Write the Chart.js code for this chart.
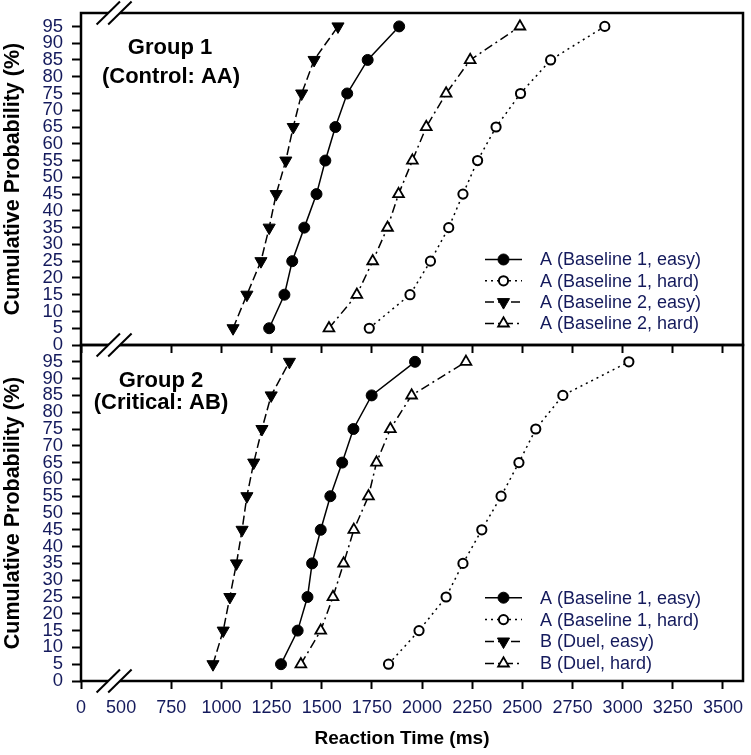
<!DOCTYPE html>
<html>
<head>
<meta charset="utf-8">
<script src="https://cdn.jsdelivr.net/npm/chart.js@4.4.0/dist/chart.umd.min.js"></script>
<style>
html, body { margin: 0; padding: 0; background: #fff; }
#wrap { position: relative; width: 751px; height: 755px; }
canvas { position: absolute; left: 0; }
#c1 { top: 0; }
#c2 { top: 330px; }
</style>
</head>
<body>
<div id="wrap">
	<canvas id="c1" width="751" height="360"></canvas>
	<canvas id="c2" width="751" height="425"></canvas>
</div>
<script>
// # ===============================
// # = Data
// # ===============================
const percentiles = [5, 15, 25, 35, 45, 55, 65, 75, 85, 95];

// Group 1 (Control: AA)
const g1Base1Easy = [1238, 1314, 1353, 1413, 1474, 1518, 1568, 1627, 1729, 1886];
const g1Base1Hard = [1737, 1940, 2042, 2133, 2204, 2277, 2369, 2491, 2641, 2911];
const g1Base2Easy = [1058, 1127, 1197, 1238, 1273, 1321, 1358, 1400, 1462, 1581];
const g1Base2Hard = [1536, 1675, 1754, 1828, 1883, 1952, 2021, 2120, 2240, 2488];

// Group 2 (Critical: AB)
const g2Base1Easy = [1297, 1380, 1429, 1452, 1495, 1543, 1602, 1658, 1749, 1965];
const g2Base1Hard = [1833, 1985, 2120, 2204, 2298, 2394, 2483, 2567, 2702, 3031];
const g2DuelEasy  = [958, 1009, 1042, 1075, 1103, 1127, 1161, 1202, 1248, 1339];
const g2DuelHard  = [1396, 1495, 1556, 1609, 1660, 1733, 1773, 1842, 1948, 2219];

const g1Labels = ['A (Baseline 1, easy)', 'A (Baseline 1, hard)', 'A (Baseline 2, easy)', 'A (Baseline 2, hard)'];
const g2Labels = ['A (Baseline 1, easy)', 'A (Baseline 1, hard)', 'B (Duel, easy)', 'B (Duel, hard)'];

// axis is broken: the left edge (300) is labelled 0
const xTickValues = [300, 500, 750, 1000, 1250, 1500, 1750, 2000, 2250, 2500, 2750, 3000, 3250, 3500];
const xTickLabels = ['0', '500', '750', '1000', '1250', '1500', '1750', '2000', '2250', '2500', '2750', '3000', '3250', '3500'];
const yTickValues = [0, 5, 10, 15, 20, 25, 30, 35, 40, 45, 50, 55, 60, 65, 70, 75, 80, 85, 90, 95];

const xMin = 300, xMax = 3600, xBreakAt = 465;
const tickText = '#141a5c';

Chart.defaults.font.family = "'Liberation Sans', Arial, sans-serif";

const seriesStyles = [
	{ dash: [], shape: 'circle', r: 5.5, bw: 1, fill: '#000', rot: 0 },
	{ dash: [2, 4], shape: 'circle', r: 4.6, bw: 2, fill: '#fff', rot: 0 },
	{ dash: [9, 4], shape: 'triangle', r: 7, bw: 1, fill: '#000', rot: 180 },
	{ dash: [9, 4, 2, 4], shape: 'triangle', r: 6.2, bw: 1.8, fill: '#fff', rot: 0 }
];

function makeSets(list, labels) {
	return list.map((vals, i) => {
		const s = seriesStyles[i];
		return {
			label: labels[i],
			data: vals.map((v, k) => ({ x: v, y: percentiles[k] })),
			borderColor: '#000',
			borderWidth: 1.5,
			borderDash: s.dash,
			pointStyle: s.shape,
			pointRadius: s.r,
			pointBorderWidth: s.bw,
			pointBackgroundColor: s.fill,
			pointBorderColor: '#000',
			pointRotation: s.rot,
			tension: 0,
			fill: false
		};
	});
}

function drawMarker(ctx, s, x, y) {
	ctx.save();
	ctx.setLineDash([]);
	ctx.lineWidth = s.bw;
	ctx.strokeStyle = '#000';
	ctx.fillStyle = s.fill;
	ctx.beginPath();
	if (s.shape === 'circle') {
		ctx.arc(x, y, s.r, 0, Math.PI * 2);
	} else {
		let rad = s.rot * Math.PI / 180;
		for (let k = 0; k < 3; k++) {
			const px = x + Math.sin(rad) * s.r, py = y - Math.cos(rad) * s.r;
			if (k === 0) ctx.moveTo(px, py); else ctx.lineTo(px, py);
			rad += Math.PI * 2 / 3;
		}
		ctx.closePath();
	}
	ctx.fill();
	ctx.stroke();
	ctx.restore();
}

function drawBreak(ctx, cx, y) {
	const dx = 11.7, dy = 11.5, off = 5.8;
	ctx.save();
	ctx.fillStyle = '#fff';
	ctx.beginPath();
	ctx.moveTo(cx - off - dx * 0.3, y + dy * 0.3);
	ctx.lineTo(cx - off + dx * 0.3, y - dy * 0.3);
	ctx.lineTo(cx + off + dx * 0.3, y - dy * 0.3);
	ctx.lineTo(cx + off - dx * 0.3, y + dy * 0.3);
	ctx.closePath();
	ctx.fill();
	ctx.strokeStyle = '#000';
	ctx.lineWidth = 2;
	[-off, off].forEach(o => {
		ctx.beginPath();
		ctx.moveTo(cx + o - dx, y + dy);
		ctx.lineTo(cx + o + dx, y - dy);
		ctx.stroke();
	});
	ctx.restore();
}

// frame, axis breaks, group text, legend
const panelDeco = {
	id: 'panelDeco',
	afterDraw(chart, args, opts) {
		const a = chart.chartArea, ctx = chart.ctx;
		ctx.save();
		ctx.strokeStyle = '#000';
		ctx.lineWidth = 2.5;
		ctx.strokeRect(a.left, a.top, a.right - a.left, a.bottom - a.top);

		const bx = chart.scales.x.getPixelForValue(xBreakAt);
		opts.breaks.forEach(e => drawBreak(ctx, bx, e === 'top' ? a.top : a.bottom));

		ctx.fillStyle = '#000';
		ctx.textAlign = 'center';
		ctx.textBaseline = 'middle';
		ctx.font = "bold 22px 'Liberation Sans', Arial, sans-serif";
		opts.group.forEach(g => ctx.fillText(g.text, g.x, a.top + g.dy));

		ctx.font = "18px 'Liberation Sans', Arial, sans-serif";
		ctx.textAlign = 'left';
		chart.data.datasets.forEach((ds, i) => {
			const s = seriesStyles[i];
			const y = a.bottom + opts.legendFirst + i * opts.legendGap;
			ctx.save();
			ctx.lineWidth = 1.5;
			ctx.setLineDash(s.dash);
			ctx.beginPath();
			ctx.moveTo(485, y);
			ctx.lineTo(522, y);
			ctx.stroke();
			ctx.restore();
			drawMarker(ctx, s, 503.5, y);
			ctx.fillStyle = tickText;
			ctx.fillText(ds.label, 540, y + 1);
		});

		if (opts.xTitle) {
			ctx.fillStyle = '#000';
			ctx.textAlign = 'center';
			ctx.font = "bold 19px 'Liberation Sans', Arial, sans-serif";
			ctx.fillText(opts.xTitle.text, opts.xTitle.x, opts.xTitle.y);
		}
		ctx.restore();
	}
};

function makeScales(yMax, showX) {
	return {
		x: {
			type: 'linear',
			min: xMin,
			max: xMax,
			afterBuildTicks: s => { s.ticks = xTickValues.map(v => ({ value: v })); },
			afterFit: s => { s.height = showX ? 74 : 15; s.paddingLeft = 0; s.paddingRight = 0; },
			border: { display: false },
			grid: {
				drawOnChartArea: false,
				drawTicks: true,
				tickLength: 8,
				tickWidth: 2,
				tickColor: c => (c.tick && c.tick.value === 500) ? 'rgba(0,0,0,0)' : '#000'
			},
			ticks: {
				display: showX,
				autoSkip: false,
				maxRotation: 0,
				padding: 8,
				color: tickText,
				font: { size: 18 },
				callback: (v, i) => xTickLabels[i]
			}
		},
		y: {
			min: 0,
			max: yMax,
			afterBuildTicks: s => { s.ticks = yTickValues.map(v => ({ value: v })); },
			afterFit: s => { s.width = 81; s.paddingTop = 0; s.paddingBottom = 0; },
			border: { display: false },
			grid: { drawOnChartArea: false, drawTicks: true, tickLength: 9, tickWidth: 2, tickColor: '#000' },
			ticks: { autoSkip: false, padding: 9, color: tickText, font: { size: 18.5 } },
			title: {
				display: true,
				text: 'Cumulative Probability (%)',
				color: '#000',
				font: { size: 21.5, weight: 'bold' },
				padding: 0
			}
		}
	};
}

function baseOptions(yMax, showX, padTop, deco) {
	return {
		responsive: false,
		animation: false,
		devicePixelRatio: 1,
		layout: { padding: { top: padTop, left: 0, right: 2, bottom: 0 } },
		scales: makeScales(yMax, showX),
		plugins: { legend: { display: false }, tooltip: { enabled: false }, panelDeco: deco }
	};
}

// # ===============================
// # = Group 1
// # ===============================
new Chart(document.getElementById('c1'), {
	type: 'line',
	data: { datasets: makeSets([g1Base1Easy, g1Base1Hard, g1Base2Easy, g1Base2Hard], g1Labels) },
	options: baseOptions(99, false, 13, {
		breaks: ['top'],
		group: [{ text: 'Group 1', x: 170, dy: 35 }, { text: '(Control: AA)', x: 171, dy: 64 }],
		legendFirst: -85.5,
		legendGap: 21.3
	}),
	plugins: [panelDeco]
});

// # ===============================
// # = Group 2
// # ===============================
new Chart(document.getElementById('c2'), {
	type: 'line',
	data: { datasets: makeSets([g2Base1Easy, g2Base1Hard, g2DuelEasy, g2DuelHard], g2Labels) },
	options: baseOptions(100, true, 15, {
		breaks: ['top', 'bottom'],
		group: [{ text: 'Group 2', x: 161, dy: 36 }, { text: '(Critical: AB)', x: 161, dy: 58 }],
		legendFirst: -83.3,
		legendGap: 21.9,
		xTitle: { text: 'Reaction Time (ms)', x: 402, y: 409 }
	}),
	plugins: [panelDeco]
});
</script>
</body>
</html>
